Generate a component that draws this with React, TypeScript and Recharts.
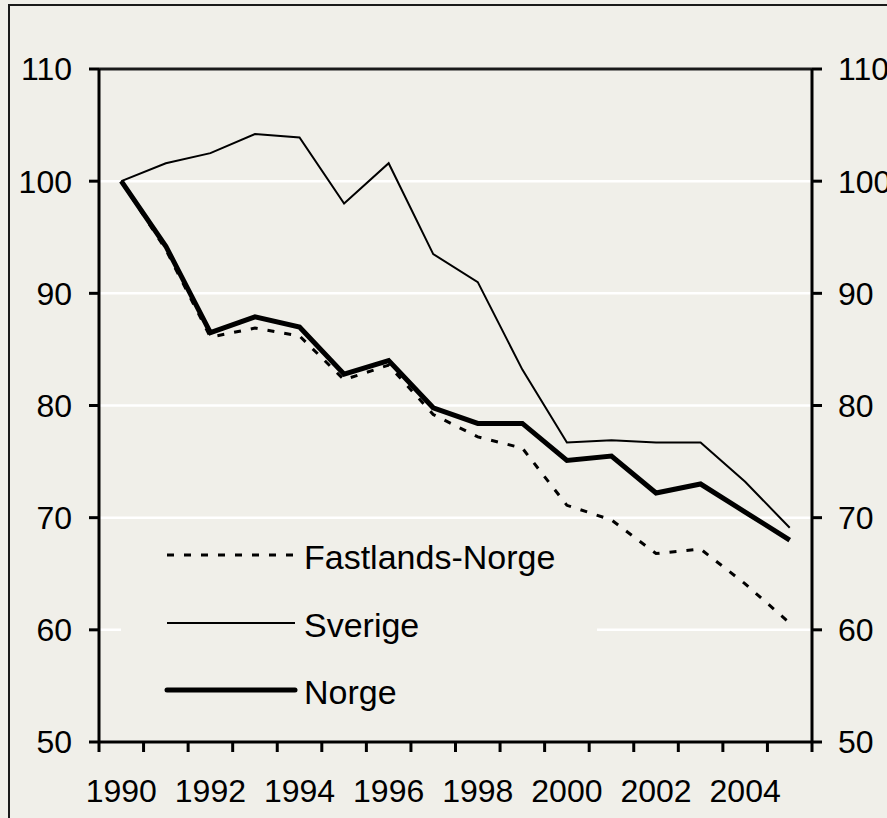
import React from 'react';
import {
  LineChart,
  Line,
  XAxis,
  YAxis,
  CartesianGrid,
  Legend,
  ReferenceLine,
} from 'recharts';

const years = [1990, 1991, 1992, 1993, 1994, 1995, 1996, 1997, 1998, 1999, 2000, 2001, 2002, 2003, 2004, 2005];
const fastlandsNorge = [100, 93.9, 86.1, 86.9, 86.2, 82.3, 83.6, 79.2, 77.2, 76.2, 71.1, 69.8, 66.8, 67.2, 64.1, 60.6];
const sverige = [100, 101.6, 102.5, 104.2, 103.9, 98.0, 101.6, 93.5, 91.0, 83.2, 76.7, 76.9, 76.7, 76.7, 73.2, 69.1];
const norge = [100, 94.2, 86.5, 87.9, 87.0, 82.8, 84.0, 79.8, 78.4, 78.4, 75.1, 75.5, 72.2, 73.0, 70.5, 68.0];

const yTicks = [50, 60, 70, 80, 90, 100, 110];
const yearLabels = [1990, 1992, 1994, 1996, 1998, 2000, 2002, 2004];
// tick marks sit between the years
const yearBounds = [...years.map((y) => y - 0.5), years[years.length - 1] + 0.5];

const data = years.map((year, i) => ({
  year,
  fastland: fastlandsNorge[i],
  sverige: sverige[i],
  norge: norge[i],
}));

// same scale on both sides; one series is tied to the right axis so it draws its ticks
const series = [
  { key: 'fastland', name: 'Fastlands-Norge', width: 3, dash: '7 10', axis: 'left' },
  { key: 'sverige', name: 'Sverige', width: 2, dash: undefined, axis: 'left' },
  { key: 'norge', name: 'Norge', width: 5, dash: undefined, axis: 'right' },
];

const BG = '#f0efe9';
const FONT = '"Liberation Sans", Arial, sans-serif';

const XTick = (props: any) => {
  const { x, y, payload } = props;
  const v = payload.value as number;
  if (yearLabels.includes(v)) {
    return (
      <text x={x} y={y + 60} textAnchor="middle" fontFamily={FONT} fontSize={32} fill="#000">
        {v}
      </text>
    );
  }
  return <line x1={x} x2={x} y1={y} y2={y + 10} stroke="#000" strokeWidth={3} />;
};

const LegendBox = () => {
  const rows = [44, 112, 179];
  return (
    <svg width={476} height={210}>
      {series.map((s, i) => (
        <g key={s.key}>
          <line
            x1={46}
            x2={174}
            y1={rows[i] - 14}
            y2={rows[i] - 14}
            stroke="#000"
            strokeWidth={s.width}
            strokeDasharray={s.dash}
            strokeLinecap={s.key === 'norge' ? 'round' : 'butt'}
          />
          <text x={183} y={rows[i]} fontFamily={FONT} fontSize={34} fill="#000">
            {s.name}
          </text>
        </g>
      ))}
    </svg>
  );
};

export default function App() {
  return (
    <div
      style={{
        position: 'fixed',
        left: 0,
        top: 0,
        width: 887,
        height: 818,
        overflow: 'hidden',
        background: BG,
      }}
    >
      <div
        style={{
          position: 'absolute',
          left: 8,
          top: 4,
          width: 879,
          height: 814,
          borderLeft: '2px solid #1a1a1a',
          borderTop: '2px solid #1a1a1a',
          boxSizing: 'border-box',
        }}
      />
      <div style={{ position: 'absolute', left: 0, top: 0 }}>
        <LineChart width={887} height={818} data={data} margin={{ top: 69, right: 0, bottom: 0, left: 0 }}>
          <CartesianGrid vertical={false} stroke="#ffffff" strokeWidth={2.5} yAxisId="left" />
          <XAxis
            dataKey="year"
            type="number"
            domain={[1989.5, 2005.5]}
            ticks={[...yearBounds, ...yearLabels]}
            interval={0}
            height={76}
            tickSize={0}
            tickMargin={0}
            tickLine={false}
            tick={<XTick />}
            axisLine={{ stroke: '#000', strokeWidth: 3 }}
          />
          <YAxis
            yAxisId="left"
            domain={[50, 110]}
            ticks={yTicks}
            interval={0}
            width={99}
            tickSize={10}
            tickMargin={17}
            tickLine={{ stroke: '#000', strokeWidth: 3 }}
            axisLine={{ stroke: '#000', strokeWidth: 3 }}
            tick={{ fontFamily: FONT, fontSize: 32, fill: '#000' }}
          />
          <YAxis
            yAxisId="right"
            orientation="right"
            domain={[50, 110]}
            ticks={yTicks}
            interval={0}
            width={75}
            tickSize={10}
            tickMargin={16}
            tickLine={{ stroke: '#000', strokeWidth: 3 }}
            axisLine={{ stroke: '#000', strokeWidth: 3 }}
            tick={{ fontFamily: FONT, fontSize: 32, fill: '#000' }}
          />
          <ReferenceLine yAxisId="left" y={110} stroke="#1a1a1a" strokeWidth={3} />
          {series.map((s) => (
            <Line
              key={s.key}
              yAxisId={s.axis}
              type="linear"
              dataKey={s.key}
              name={s.name}
              stroke="#000"
              strokeWidth={s.width}
              strokeDasharray={s.dash}
              dot={false}
              activeDot={false}
              isAnimationActive={false}
            />
          ))}
          <Legend
            layout="vertical"
            align="center"
            verticalAlign="middle"
            content={<LegendBox />}
            wrapperStyle={{
              left: 121,
              top: 525,
              width: 476,
              height: 210,
              background: BG,
              margin: 0,
              padding: 0,
            }}
          />
        </LineChart>
      </div>
    </div>
  );
}
